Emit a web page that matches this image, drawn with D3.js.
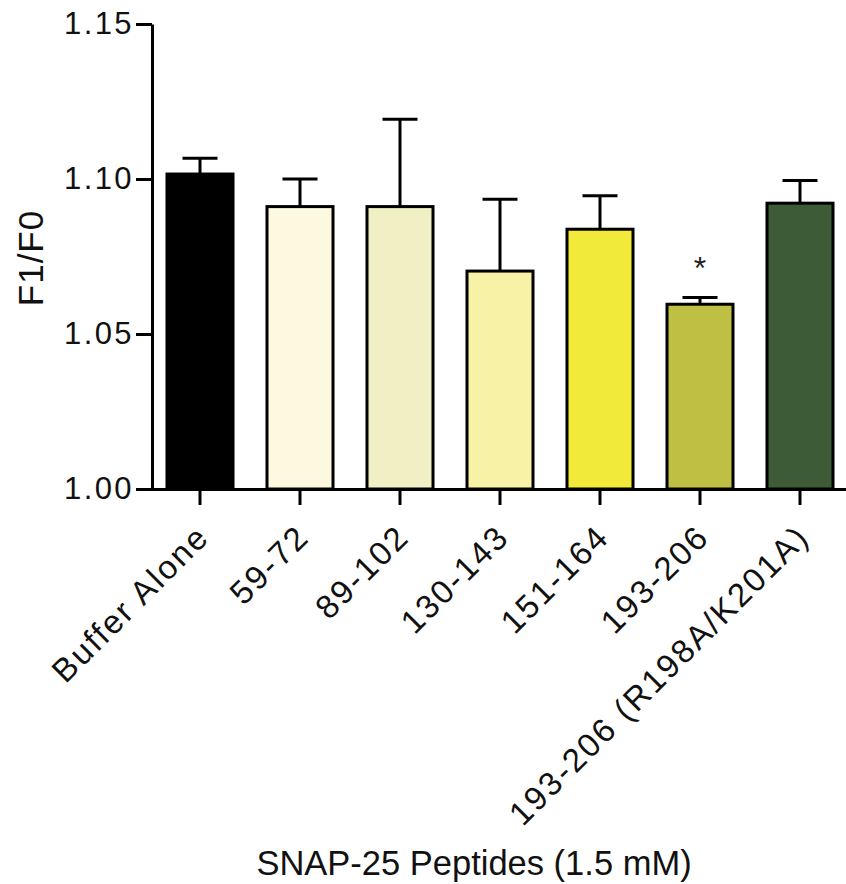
<!DOCTYPE html>
<html>
<head>
<meta charset="utf-8">
<script src="https://cdn.jsdelivr.net/npm/d3@7"></script>
<style>
  html, body { margin: 0; padding: 0; background: #fff; }
  svg { display: block; font-family: "Liberation Sans", Arial, Helvetica, sans-serif; }
</style>
</head>
<body>
<svg id="chart" width="846" height="884"></svg>
<script>
const categories = ["Buffer Alone", "59-72", "89-102", "130-143", "151-164", "193-206", "193-206 (R198A/K201A)"];
const means      = [1.1016, 1.0911, 1.0911, 1.0703, 1.0838, 1.0596, 1.0922];
const errTops    = [1.1067, 1.1000, 1.1193, 1.0935, 1.0946, 1.0618, 1.0995];
const colors     = ["#000000", "#fcf9e0", "#f1f0c4", "#f8f2a6", "#f2ea3a", "#bfbf44", "#3c5b36"];
const significant = [false, false, false, false, false, true, false];
const yTicks     = [1.00, 1.05, 1.10, 1.15];
const yLabel = "F1/F0";
const xLabel = "SNAP-25 Peptides (1.5 mM)";

const svg = d3.select("#chart");
const x = d3.scaleBand().domain(categories).range([150, 850]).paddingInner(0.34).paddingOuter(0.17);
const y = d3.scaleLinear().domain([1.0, 1.15]).range([489, 24]);
const axisX = 152;

// bars
svg.append("g").selectAll("rect").data(categories).join("rect")
  .attr("x", d => x(d))
  .attr("width", x.bandwidth())
  .attr("y", (d, i) => y(means[i]))
  .attr("height", (d, i) => y(1.0) - y(means[i]))
  .attr("fill", (d, i) => colors[i])
  .attr("stroke", "#000")
  .attr("stroke-width", 3);

// error bars (upper only)
const eb = svg.append("g").attr("stroke", "#000").attr("stroke-width", 3);
categories.forEach((c, i) => {
  const cx = x(c) + x.bandwidth() / 2;
  eb.append("line").attr("x1", cx).attr("x2", cx).attr("y1", y(means[i])).attr("y2", y(errTops[i]));
  eb.append("line").attr("x1", cx - 17.5).attr("x2", cx + 17.5).attr("y1", y(errTops[i])).attr("y2", y(errTops[i]));
});

// significance star
categories.forEach((c, i) => {
  if (!significant[i]) return;
  svg.append("text")
    .attr("x", x(c) + x.bandwidth() / 2)
    .attr("y", y(errTops[i]) - 18)
    .attr("text-anchor", "middle")
    .attr("font-size", 32)
    .attr("fill", "#222")
    .text("*");
});

// y axis
const gy = svg.append("g").attr("transform", `translate(${axisX},0)`)
  .call(d3.axisLeft(y).tickValues(yTicks).tickFormat(d3.format(".2f")).tickSize(16).tickSizeOuter(0).tickPadding(2));
gy.select(".domain").attr("stroke-width", 3);
gy.selectAll(".tick line").attr("stroke-width", 3);
gy.selectAll(".tick text").attr("font-size", 31).attr("letter-spacing", "2.4px")
  .attr("fill", "#111").style("font-family", "'Liberation Sans', Arial, sans-serif");

// x axis
const gx = svg.append("g").attr("transform", `translate(0,${y(1.0)})`)
  .call(d3.axisBottom(x).tickSize(16).tickSizeOuter(0).tickFormat(""));
gx.select(".domain").attr("stroke-width", 3).attr("d", `M${axisX - 1.5},0.5H846`);
gx.selectAll(".tick line").attr("stroke-width", 3);

// category labels
svg.append("g").selectAll("text").data(categories).join("text")
  .attr("transform", d => `translate(${x(d) + x.bandwidth() / 2 + 11},539) rotate(-45)`)
  .attr("text-anchor", "end")
  .attr("font-size", 33)
  .attr("letter-spacing", "2.2px")
  .attr("fill", "#111")
  .text(d => d);

// axis titles
svg.append("text")
  .attr("transform", "translate(43,258) rotate(-90)")
  .attr("text-anchor", "middle")
  .attr("font-size", 35)
  .attr("letter-spacing", "1px")
  .attr("fill", "#111")
  .text(yLabel);

svg.append("text")
  .attr("x", 474)
  .attr("y", 875)
  .attr("text-anchor", "middle")
  .attr("font-size", 34.5)
  .attr("fill", "#111")
  .text(xLabel);
</script>
</body>
</html>
